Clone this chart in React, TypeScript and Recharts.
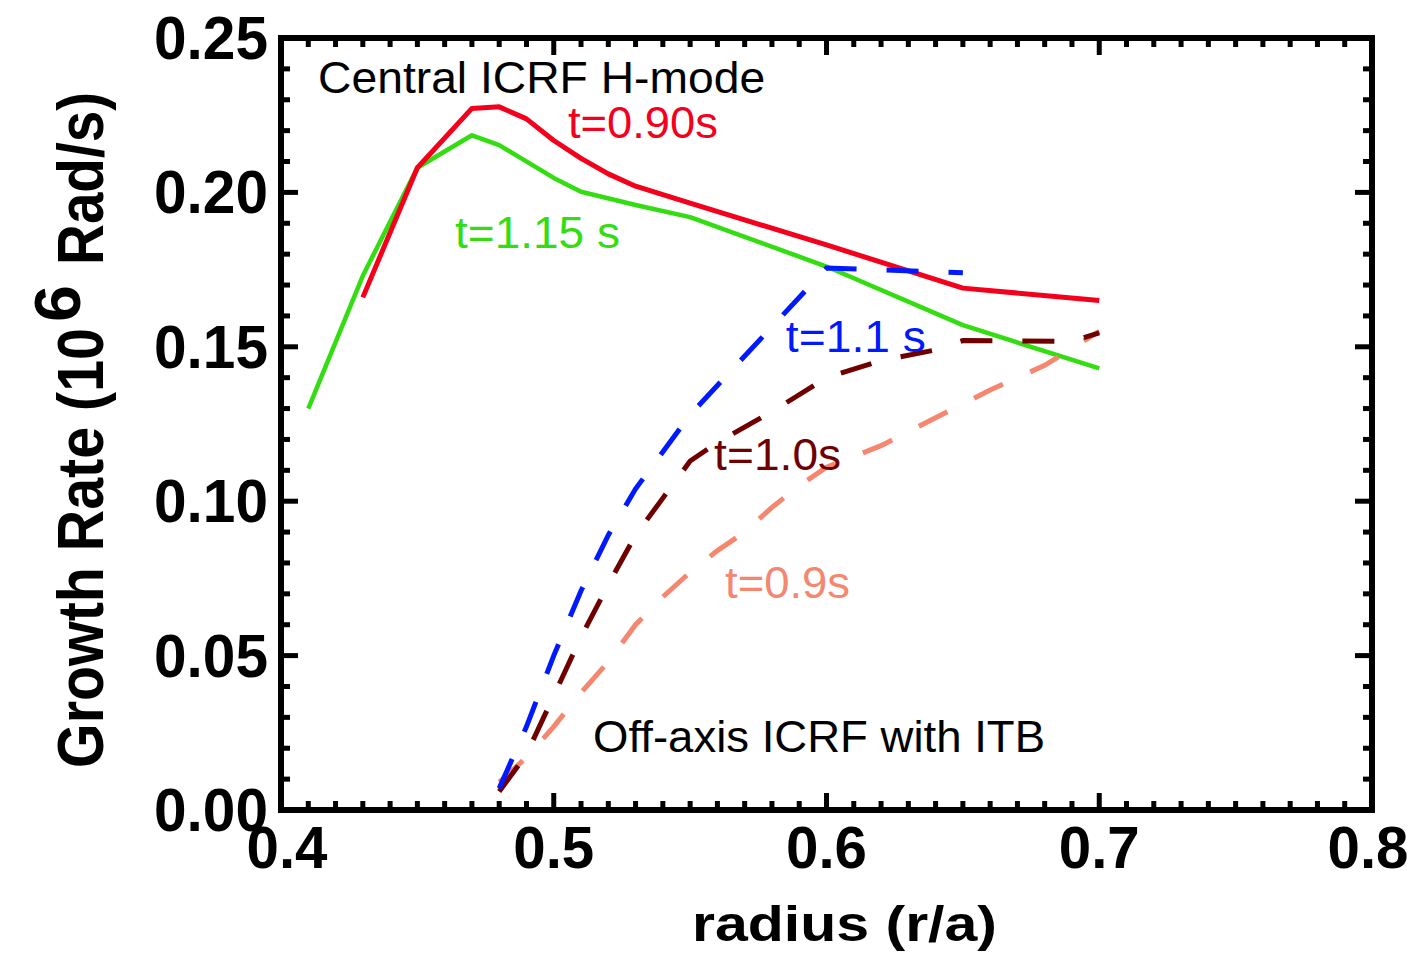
import React from 'react';
import { ComposedChart, Line, Scatter, XAxis, YAxis } from 'recharts';

// t=0.90s, central ICRF H-mode (solid red)
const RED_X = [0.43, 0.45, 0.47, 0.48, 0.49, 0.5, 0.51, 0.52, 0.53, 0.55, 0.6, 0.65, 0.7];
const RED_Y = [0.166, 0.208, 0.2272, 0.2277, 0.2238, 0.2168, 0.211, 0.206, 0.202, 0.1965, 0.183, 0.169, 0.165];

// t=1.15 s, central ICRF H-mode (solid green)
const GREEN_X = [0.41, 0.43, 0.45, 0.47, 0.48, 0.5, 0.51, 0.53, 0.55, 0.6, 0.65, 0.7];
const GREEN_Y = [0.13, 0.173, 0.208, 0.2185, 0.2153, 0.2047, 0.2002, 0.1959, 0.192, 0.176, 0.157, 0.143];

// t=1.1 s, off-axis ICRF with ITB (dashed blue)
const BLUE_X = [0.48, 0.49, 0.5, 0.51, 0.52, 0.53, 0.55, 0.6, 0.65];
const BLUE_Y = [0.007, 0.027, 0.05, 0.071, 0.089, 0.104, 0.128, 0.1755, 0.174];

// t=1.0s (dashed dark red)
const DARK_X = [0.48, 0.49, 0.5, 0.51, 0.52, 0.53, 0.54, 0.55, 0.56, 0.58, 0.6, 0.62, 0.64, 0.65, 0.69, 0.7];
const DARK_Y = [0.006, 0.018, 0.037, 0.056, 0.073, 0.089, 0.101, 0.113, 0.119, 0.129, 0.14, 0.1455, 0.149, 0.152, 0.1518, 0.1545];

// t=0.9s (dashed salmon)
const SALMON_X = [0.48, 0.49, 0.5, 0.51, 0.52, 0.53, 0.54, 0.55, 0.56, 0.57, 0.58, 0.59, 0.6, 0.62, 0.64, 0.66, 0.68, 0.7];
const SALMON_Y = [0.009, 0.017, 0.027, 0.038, 0.048, 0.06, 0.069, 0.077, 0.084, 0.09, 0.098, 0.105, 0.111, 0.118, 0.127, 0.136, 0.144, 0.155];

const X_MAJOR = [0.4, 0.5, 0.6, 0.7, 0.8];
const Y_MAJOR = [0, 0.05, 0.1, 0.15, 0.2, 0.25];

// annotation text, anchored (left, baseline) in data units
const ANNOTATIONS = [
  { x: 0.4136, y: 0.2322, text: 'Central ICRF H-mode', color: '#000000', len: 447 },
  { x: 0.5052, y: 0.2176, text: 't=0.90s', color: '#f5001c', len: 150 },
  { x: 0.4638, y: 0.1819, text: 't=1.15 s', color: '#33dd11', len: 165 },
  { x: 0.5851, y: 0.1483, text: 't=1.1 s', color: '#0019ff', len: 140 },
  { x: 0.5588, y: 0.1101, text: 't=1.0s', color: '#700000', len: 127 },
  { x: 0.5628, y: 0.0687, text: 't=0.9s', color: '#f5866f', len: 125 },
  { x: 0.5144, y: 0.0188, text: 'Off-axis ICRF with ITB', color: '#000000', len: 452 },
];

const W = 1412;
const H = 953;
const FONT = '"Liberation Sans", Arial, Helvetica, sans-serif';

const toPts = (xs: number[], ys: number[]) => xs.map((x, i) => ({ x, y: ys[i] }));

// every 0.01 gets a tick, the majors get labels
const X_TICKS: number[] = [];
for (let i = 40; i <= 80; i++) X_TICKS.push(i / 100);
const Y_TICKS: number[] = [];
for (let i = 0; i <= 25; i++) Y_TICKS.push(i / 100);

const isMajor = (v: number, list: number[]) => list.some(m => Math.abs(m - v) < 1e-6);

const MAJOR_LEN = 17;
const MINOR_LEN = 9;
const TICK_W = 5;

const BottomTick = (props: any) => {
  const { x, y, payload } = props;
  const v = payload.value;
  const major = isMajor(v, X_MAJOR);
  // end labels sit a little inside the frame, as in the original
  const nudge = Math.abs(v - 0.4) < 1e-6 ? 6 : Math.abs(v - 0.8) < 1e-6 ? -4 : 0;
  return (
    <g>
      <line x1={x} x2={x} y1={y} y2={y - (major ? MAJOR_LEN : MINOR_LEN)} stroke="#000" strokeWidth={TICK_W} />
      {major && (
        <text x={x + nudge} y={y + 58} textAnchor="middle" fontSize={60} fontWeight="bold" fontFamily={FONT} fill="#000"
          textLength={81} lengthAdjust="spacingAndGlyphs">
          {v.toFixed(1)}
        </text>
      )}
    </g>
  );
};

const TopTick = (props: any) => {
  const { x, y, payload } = props;
  const major = isMajor(payload.value, X_MAJOR);
  return <line x1={x} x2={x} y1={y} y2={y + (major ? MAJOR_LEN : MINOR_LEN)} stroke="#000" strokeWidth={TICK_W} />;
};

const LeftTick = (props: any) => {
  const { x, y, payload } = props;
  const major = isMajor(payload.value, Y_MAJOR);
  return (
    <g>
      <line x1={x} x2={x + (major ? MAJOR_LEN : MINOR_LEN)} y1={y} y2={y} stroke="#000" strokeWidth={TICK_W} />
      {major && (
        <text x={x - 13} y={y + 21} textAnchor="end" fontSize={61} fontWeight="bold" fontFamily={FONT} fill="#000"
          textLength={114} lengthAdjust="spacingAndGlyphs">
          {payload.value.toFixed(2)}
        </text>
      )}
    </g>
  );
};

const RightTick = (props: any) => {
  const { x, y, payload } = props;
  const major = isMajor(payload.value, Y_MAJOR);
  return <line x1={x} x2={x - (major ? MAJOR_LEN : MINOR_LEN)} y1={y} y2={y} stroke="#000" strokeWidth={TICK_W} />;
};

const AnnotationShape = (props: any) => {
  const a = props.payload || ANNOTATIONS[props.index];
  return (
    <text x={props.cx} y={props.cy} fontSize={45} fontFamily={FONT} fill={a.color}
      textLength={a.len} lengthAdjust="spacingAndGlyphs">
      {a.text}
    </text>
  );
};

const frame = { stroke: '#000', strokeWidth: 6, strokeLinecap: 'square' as const };

export default function App() {
  return (
    <div style={{ position: 'absolute', left: 0, top: 0, width: W, height: H, background: '#fff' }}>
      <ComposedChart width={W} height={H} margin={{ top: 0, right: 0, bottom: 0, left: 0 }}>
        <XAxis xAxisId="b" dataKey="x" type="number" domain={[0.4, 0.8]} allowDataOverflow ticks={X_TICKS} interval={0}
          height={143} axisLine={frame} tickLine={false} tickSize={0} tickMargin={0} tick={<BottomTick />} />
        <XAxis xAxisId="t" orientation="top" dataKey="x" type="number" domain={[0.4, 0.8]} allowDataOverflow ticks={X_TICKS}
          interval={0} height={38} axisLine={frame} tickLine={false} tickSize={0} tickMargin={0} tick={<TopTick />} />
        <YAxis yAxisId="l" type="number" domain={[0, 0.25]} allowDataOverflow ticks={Y_TICKS} interval={0} width={281}
          axisLine={frame} tickLine={false} tickSize={0} tickMargin={0} tick={<LeftTick />} />
        <YAxis yAxisId="r" orientation="right" type="number" domain={[0, 0.25]} allowDataOverflow ticks={Y_TICKS} interval={0}
          width={40} axisLine={frame} tickLine={false} tickSize={0} tickMargin={0} tick={<RightTick />} />

        <Line xAxisId="b" yAxisId="l" data={toPts(GREEN_X, GREEN_Y)} dataKey="y" type="linear" stroke="#33dd11"
          strokeWidth={4.5} dot={false} isAnimationActive={false} strokeLinejoin="round" />
        <Line xAxisId="b" yAxisId="l" data={toPts(RED_X, RED_Y)} dataKey="y" type="linear" stroke="#f5001c"
          strokeWidth={5} dot={false} isAnimationActive={false} strokeLinejoin="round" />
        <Line xAxisId="b" yAxisId="l" data={toPts(SALMON_X, SALMON_Y)} dataKey="y" type="linear" stroke="#f5866f"
          strokeWidth={5} strokeDasharray="32 30" dot={false} isAnimationActive={false} />
        <Line xAxisId="b" yAxisId="l" data={toPts(DARK_X, DARK_Y)} dataKey="y" type="linear" stroke="#700000"
          strokeWidth={5} strokeDasharray="32 30" dot={false} isAnimationActive={false} />
        <Line xAxisId="b" yAxisId="l" data={toPts(BLUE_X, BLUE_Y)} dataKey="y" type="linear" stroke="#0019ff"
          strokeWidth={5} strokeDasharray="32 30" dot={false} isAnimationActive={false} />

        <Scatter xAxisId="b" yAxisId="l" data={ANNOTATIONS} dataKey="y" shape={<AnnotationShape />} isAnimationActive={false} />
      </ComposedChart>

      <svg width={W} height={H} style={{ position: 'absolute', left: 0, top: 0, pointerEvents: 'none' }}>
        <text x={692} y={941} fontSize={50} fontWeight="bold" fontFamily={FONT} fill="#000"
          textLength={305} lengthAdjust="spacingAndGlyphs">radius (r/a)</text>
        <g fontFamily={FONT} fontWeight="bold" fill="#000" fontSize={64}>
          <text x={103} y={768} transform="rotate(-90 103 768)" textLength={440} lengthAdjust="spacingAndGlyphs">
            Growth Rate (10
          </text>
          <text x={80} y={322} transform="rotate(-90 80 322)" textLength={37} lengthAdjust="spacingAndGlyphs">6</text>
          <text x={103} y={265} transform="rotate(-90 103 265)" textLength={173} lengthAdjust="spacingAndGlyphs">
            Rad/s)
          </text>
        </g>
      </svg>
    </div>
  );
}
